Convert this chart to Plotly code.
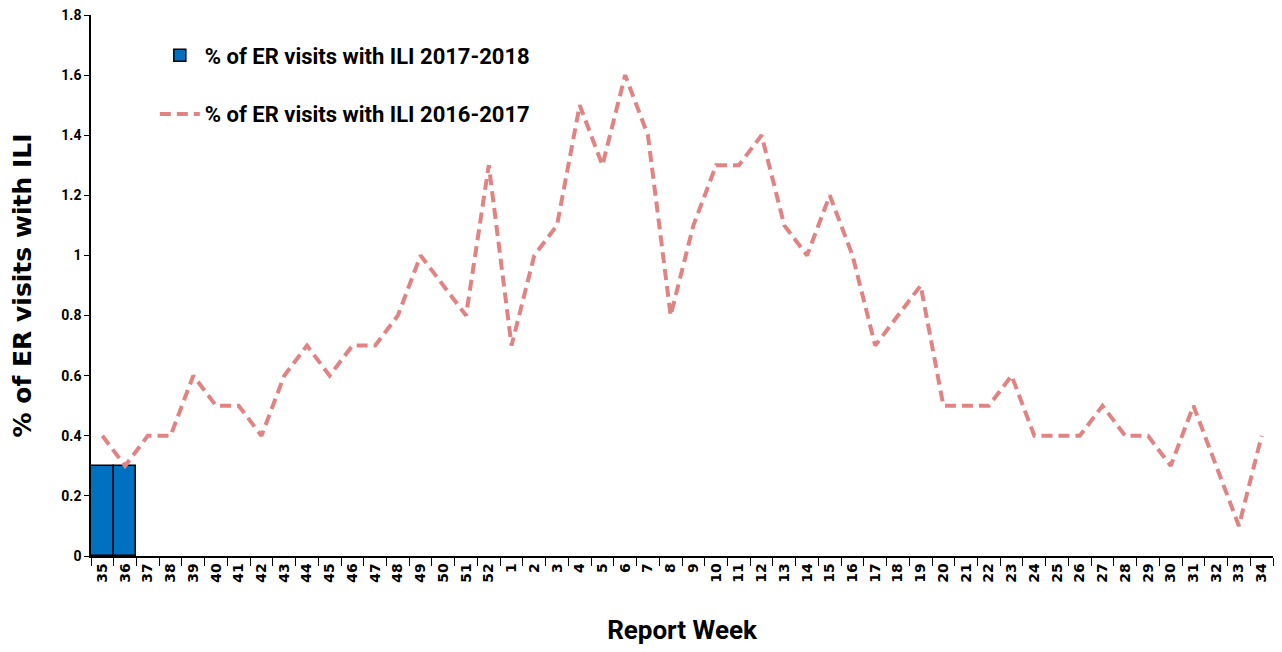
import plotly.graph_objects as go

weeks = [str(w) for w in list(range(35, 53)) + list(range(1, 35))]
ili_2017_2018 = [0.3, 0.3]
ili_2016_2017 = [0.4, 0.3, 0.4, 0.4, 0.6, 0.5, 0.5, 0.4, 0.6, 0.7, 0.6, 0.7, 0.7, 0.8,
                 1.0, 0.9, 0.8, 1.3, 0.7, 1.0, 1.1, 1.5, 1.3, 1.6, 1.4, 0.8, 1.1, 1.3,
                 1.3, 1.4, 1.1, 1.0, 1.2, 1.0, 0.7, 0.8, 0.9, 0.5, 0.5, 0.5, 0.6, 0.4,
                 0.4, 0.4, 0.5, 0.4, 0.4, 0.3, 0.5, 0.3, 0.1, 0.4]
y_ticks = [0, 0.2, 0.4, 0.6, 0.8, 1, 1.2, 1.4, 1.6, 1.8]

cond = "Roboto, Liberation Sans, sans-serif"
wide = "DejaVu Sans, Verdana, sans-serif"

fig = go.Figure()
fig.add_trace(go.Bar(
    x=weeks[:len(ili_2017_2018)], y=ili_2017_2018,
    name="% of ER visits with ILI 2017-2018",
    marker=dict(color="#0070C0", line=dict(color="black", width=1.5)),
    legendgroup="a",
))
fig.add_trace(go.Scatter(
    x=weeks, y=ili_2016_2017, mode="lines",
    name="% of ER visits with ILI 2016-2017",
    line=dict(color="#E28383", width=4, dash="11px,6px"),
    legendgroup="b",
))

fig.update_layout(
    width=1274, height=644,
    paper_bgcolor="white", plot_bgcolor="white",
    margin=dict(l=83, r=9, t=7, b=96, autoexpand=False),
    bargap=0,
    showlegend=True,
    legend=dict(x=0.054, y=0.964, xanchor="left", yanchor="top",
                font=dict(family=cond, size=22, color="black", weight="bold"),
                tracegroupgap=27, bgcolor="rgba(0,0,0,0)", itemwidth=40),
    xaxis=dict(
        type="category", categoryorder="array", categoryarray=weeks,
        range=[-0.5, len(weeks) - 0.5],
        showline=True, linecolor="black", linewidth=1.5,
        ticks="outside", tickson="boundaries", ticklen=8, tickcolor="black",
        tickangle=-90, automargin=False, ticklabeloverflow="allow",
        tickfont=dict(family=wide, size=14, color="black", weight="bold"),
        title=dict(text="Report Week", font=dict(family=cond, size=26, color="black", weight="bold"), standoff=39),
        showgrid=False,
    ),
    yaxis=dict(
        range=[0, 1.8], tickvals=y_ticks, ticktext=[f"{v:g}" for v in y_ticks],
        showline=True, linecolor="black", linewidth=1.5,
        ticks="outside", ticklen=5, tickcolor="black", automargin=False,
        ticklabeloverflow="allow",
        tickfont=dict(family=cond, size=14, color="black", weight="bold"),
        title=dict(text="% of ER visits with ILI",
                   font=dict(family=wide, size=25, color="black", weight="bold"), standoff=23),
        showgrid=False, zeroline=False,
    ),
)

fig.write_html("out.html")
